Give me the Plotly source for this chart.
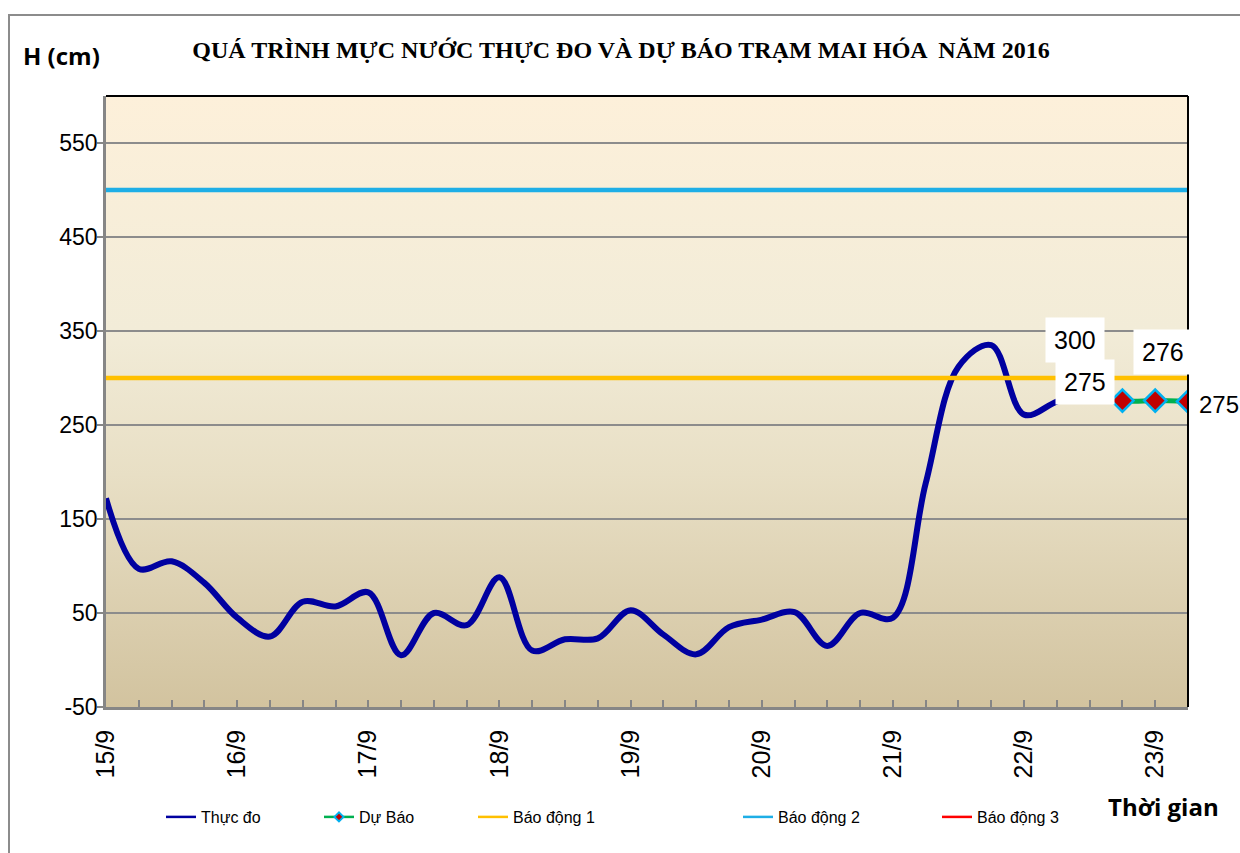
import base64
import plotly.graph_objects as go

# ---------------- data ----------------
days = ["15/9", "16/9", "17/9", "18/9", "19/9", "20/9", "21/9", "22/9", "23/9"]
steps_per_day = 4  # 6-hourly observations

thuc_do = [172, 97, 105, 82, 45, 25, 62, 57, 72, 5, 50, 37, 88, 10, 22, 23,
           53, 27, 6, 35, 43, 51, 15, 50, 45, 188, 312, 335, 261, 275, 287]
du_bao_start = 30
du_bao = [287, 276, 276, 275]

bao_dong_1 = 300
bao_dong_2 = 500
bao_dong_3 = 700

n_points = 34
label_texts = ["300", "275", "276", "275"]

y_tickvals = [-50, 50, 150, 250, 350, 450, 550]
y_ticktext = ["-50", "50", "150", "250", "350", "450", "550"]

series_names = ["Thực đo", "Dự Báo", "Báo động 1", "Báo động 2", "Báo động 3"]

# ---------------- styles ----------------
C_OBS = "#0000A0"
C_FC = "#00B050"
C_BD1 = "#FFC000"
C_BD2 = "#1EAEE6"
C_BD3 = "#FF0000"

W, H = 1240, 853
ML, MR, MT, MB = 106, 52, 96, 146
PW, PH = W - ML - MR, H - MT - MB


def px_x(p):
    """page pixel x -> paper"""
    return (p - ML) / PW


def px_y(p):
    """page pixel y -> paper"""
    return (MT + PH - p) / PH


x_all = list(range(n_points))
x_obs = list(range(len(thuc_do)))
x_fc = list(range(du_bao_start, du_bao_start + len(du_bao)))

fig = go.Figure()

# alarm lines
fig.add_trace(go.Scatter(x=x_all, y=[bao_dong_2] * n_points, mode="lines",
                         line=dict(color=C_BD2, width=4.5), showlegend=False, hoverinfo="skip"))
fig.add_trace(go.Scatter(x=x_all, y=[bao_dong_3] * n_points, mode="lines",
                         line=dict(color=C_BD3, width=4.5), showlegend=False, hoverinfo="skip"))

# observed
fig.add_trace(go.Scatter(x=x_obs, y=thuc_do, mode="lines",
                         line=dict(color=C_OBS, width=6, shape="spline", smoothing=1),
                         showlegend=False))
# forecast
fig.add_trace(go.Scatter(x=x_fc, y=du_bao, mode="lines",
                         line=dict(color=C_FC, width=5, shape="spline", smoothing=1),
                         showlegend=False))
fig.add_trace(go.Scatter(x=x_fc[1:], y=du_bao[1:], mode="markers",
                         marker=dict(symbol="diamond", size=17, color="#C00000",
                                     line=dict(color="#00B0F0", width=2.5)),
                         showlegend=False))
fig.add_trace(go.Scatter(x=x_all, y=[bao_dong_1] * n_points, mode="lines",
                         line=dict(color=C_BD1, width=4.5), showlegend=False, hoverinfo="skip"))

# legend-only entries (separate legends for Excel-like spacing)
legend_text_starts = [201, 359, 513, 778, 977]
legend_styles = [
    dict(mode="lines", line=dict(color=C_OBS, width=2.5)),
    dict(mode="lines+markers", line=dict(color=C_FC, width=2.5),
         marker=dict(symbol="diamond", size=7, color="#C00000", line=dict(color="#00B0F0", width=2))),
    dict(mode="lines", line=dict(color=C_BD1, width=2.5)),
    dict(mode="lines", line=dict(color=C_BD2, width=2.5)),
    dict(mode="lines", line=dict(color=C_BD3, width=2.5)),
]
legend_layouts = {}
for i, (name, st) in enumerate(zip(series_names, legend_styles)):
    key = "legend" if i == 0 else f"legend{i + 1}"
    fig.add_trace(go.Scatter(x=[None], y=[None], name=name, legend=key, showlegend=True, **st))
    legend_layouts[key] = dict(
        x=px_x(legend_text_starts[i] - 40), y=px_y(817), xanchor="left", yanchor="middle",
        orientation="h", bgcolor="rgba(0,0,0,0)",
        font=dict(family="Liberation Sans, Arial", size=16, color="#000000"),
    )

# data labels: (x, y, xshift, yshift, font size)
label_anchors = [
    (du_bao_start, bao_dong_1, -15, 38, 25),
    (du_bao_start, du_bao[0], -5, 8, 25),
    (x_fc[2], du_bao[2], 8, 49, 25),
    (x_fc[3], du_bao[3], 31, -3, 24),
]
annotations = []
for txt, (ax_, ay_, xs, ys, fs) in zip(label_texts, label_anchors):
    annotations.append(dict(
        x=ax_, y=ay_, xref="x", yref="y", text=txt, showarrow=False,
        xshift=xs, yshift=ys, bgcolor="#FFFFFF", borderpad=8 if fs == 25 else 0,
        font=dict(family="Liberation Sans, Arial", size=fs, color="#000000"),
    ))

annotations.append(dict(
    x=px_x(61), y=px_y(55), xref="paper", yref="paper", text="<b>H (cm)</b>",
    showarrow=False, xanchor="center", yanchor="middle",
    font=dict(family="Open Sans", size=24, color="#000000"),
))
annotations.append(dict(
    x=px_x(1163), y=px_y(806), xref="paper", yref="paper", text="<b>Thời gian</b>",
    showarrow=False, xanchor="center", yanchor="middle",
    font=dict(family="Open Sans", size=24, color="#000000"),
))

# gradient plot background
svg = ('<svg xmlns="http://www.w3.org/2000/svg" width="100" height="100" preserveAspectRatio="none">'
       '<defs><linearGradient id="g" x1="0" y1="0" x2="0" y2="1">'
       '<stop offset="0" stop-color="#FDF0DA"/>'
       '<stop offset="0.38" stop-color="#F2ECD8"/>'
       '<stop offset="0.62" stop-color="#E8DFC5"/>'
       '<stop offset="1" stop-color="#D2C39F"/>'
       '</linearGradient></defs><rect width="100" height="100" fill="url(#g)"/></svg>')
src = "data:image/svg+xml;base64," + base64.b64encode(svg.encode()).decode()

shapes = [
    # outer chart frame
    dict(type="rect", xref="paper", yref="paper", x0=px_x(9), x1=px_x(1245),
         y0=px_y(860), y1=px_y(15), line=dict(color="#8C8C8C", width=2), layer="below"),
    # plot area top/right border
    dict(type="line", xref="paper", yref="paper", x0=0, x1=1, y0=1, y1=1,
         line=dict(color="#000000", width=2)),
    dict(type="line", xref="paper", yref="paper", x0=1, x1=1, y0=0, y1=1,
         line=dict(color="#000000", width=2)),
]

fig.update_layout(
    width=W, height=H,
    margin=dict(l=ML, r=MR, t=MT, b=MB, pad=0),
    paper_bgcolor="#FFFFFF",
    plot_bgcolor="rgba(0,0,0,0)",
    title=dict(text="<b>QUÁ TRÌNH MỰC NƯỚC THỰC ĐO VÀ DỰ BÁO TRẠM MAI HÓA  NĂM 2016</b>",
               x=px_x(621), xref="paper", xanchor="center",
               y=1 - 50 / H, yref="container", yanchor="middle",
               font=dict(family="Liberation Serif, Times New Roman", size=24, color="#000000")),
    images=[dict(source=src, xref="paper", yref="paper", x=0, y=1, sizex=1, sizey=1,
                 xanchor="left", yanchor="top", sizing="stretch", layer="below")],
    shapes=shapes,
    annotations=annotations,
    **legend_layouts,
)

fig.update_xaxes(
    range=[0, n_points - 1],
    tickmode="array",
    tickvals=[i * steps_per_day for i in range(len(days))],
    ticktext=days,
    tickangle=-90,
    tickfont=dict(family="Liberation Sans, Arial", size=25, color="#000000"),
    ticks="inside", ticklen=7, tickcolor="#868686", tickwidth=1.5,
    minor=dict(ticks="inside", dtick=1, ticklen=7, tickcolor="#868686", tickwidth=1.5),
    ticklabelstandoff=10,
    showgrid=False, zeroline=False,
    showline=True, linecolor="#868686", linewidth=2.5,
)
fig.update_yaxes(
    range=[-50, 600],
    tickmode="array", tickvals=y_tickvals, ticktext=y_ticktext,
    tickfont=dict(family="Liberation Sans, Arial", size=23, color="#000000"),
    ticks="outside", ticklen=6, tickcolor="#868686", tickwidth=1.5,
    ticklabelstandoff=-5,
    showgrid=True, gridcolor="#8C8C8C", gridwidth=2,
    zeroline=False,
    showline=True, linecolor="#868686", linewidth=2.5,
)

fig.write_html(
    "out.html",
    config={"displayModeBar": False},
    post_script="document.body.style.margin='0';document.body.style.overflow='hidden';",
)
